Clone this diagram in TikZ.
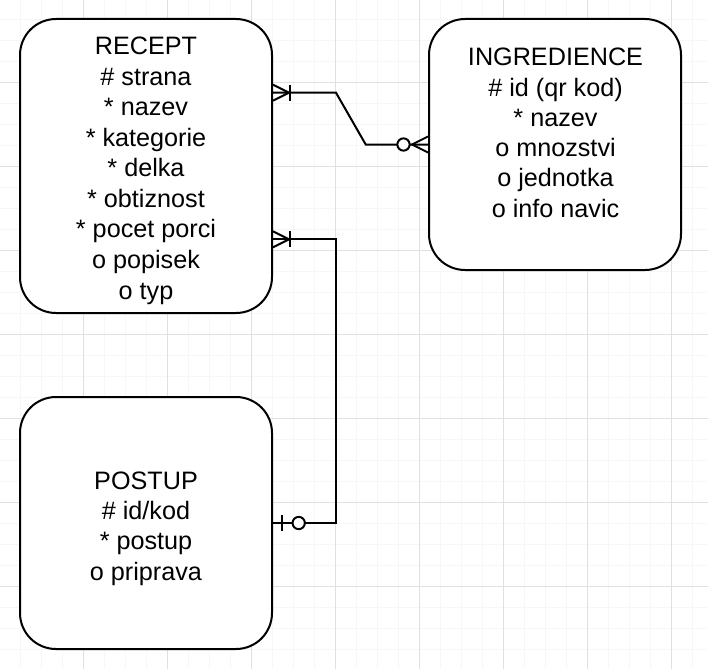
\documentclass[tikz,border=0pt]{standalone}
\usepackage{fontspec}
\setmainfont{Liberation Sans}
\begin{document}
\begin{tikzpicture}[x=1pt,y=-1pt,
  minorgrid/.style={draw=black!3, line width=1pt},
  majorgrid/.style={draw=black!12, line width=1pt},
  entity/.style={draw=black, line width=2pt, rounded corners=36pt, fill=white, inner sep=0pt},
  entlabel/.style={font=\fontsize{25.2}{30.3}\selectfont, align=center, anchor=north, inner sep=0pt, text=black},
  conn/.style={draw=black, line width=2pt, line join=miter},
  ring/.style={draw=black, line width=2pt, fill=white, circle, inner sep=0pt, minimum size=12.3pt}]
\useasboundingbox (0,0) rectangle (708,669);
\fill[white] (0,0) rectangle (708,669);
% grid
\foreach \k in {0,...,34} { \draw[minorgrid] ({-0.7+21*\k},0) -- ({-0.7+21*\k},669); }
\foreach \k in {0,...,32} { \draw[minorgrid] (0,{-1.7+21*\k}) -- (708,{-1.7+21*\k}); }
\foreach \k in {1,...,8} { \draw[majorgrid] ({-0.7+84*\k},0) -- ({-0.7+84*\k},669); }
\foreach \k in {1,...,7} { \draw[majorgrid] (0,{-1.7+84*\k}) -- (708,{-1.7+84*\k}); }
% entities
\node[entity, minimum width=252pt, minimum height=294pt] (recept) at (146,166) {};
\node[entity, minimum width=252pt, minimum height=251pt] (ingr) at (555,144.5) {};
\node[entity, minimum width=252pt, minimum height=252pt] (postup) at (146,523) {};
\node[entlabel, font=\fontsize{25.2}{30.5}\selectfont] (recepttext) at (146,37.2) {RECEPT\\\# strana\\* nazev\\* kategorie\\* delka\\* obtiznost\\* pocet porci\\o popisek\\o typ};
\node[entlabel] (ingrtext) at (555.5,48) {INGREDIENCE\\\# id (qr kod)\\* nazev\\o mnozstvi\\o jednotka\\o info navic};
\node[entlabel] (postuptext) at (146,471.3) {POSTUP\\\# id/kod\\* postup\\o priprava};
% connector RECEPT -- INGREDIENCE
\draw[conn] ([yshift=73.3pt]recept.east) -- ++(63,0) -- ([xshift=-62.3pt]ingr.west) -- (ingr.west);
\draw[conn] ([yshift=73.3pt]recept.east) ++(0,-8) -- ++(16,8) -- ++(-16,8);
\draw[conn] ([yshift=73.3pt]recept.east) ++(17,-8) -- ++(0,16);
\draw[conn] (ingr.west) ++(0,-8) -- ++(-16,8) -- ++(16,8);
\node[ring] (ring1) at ([xshift=-24.5pt]ingr.west) {};
% connector RECEPT -- POSTUP
\draw[conn] ([yshift=-73.3pt]recept.east) -- ++(63,0) |- (postup.east);
\draw[conn] ([yshift=-73.3pt]recept.east) ++(0,-8) -- ++(16,8) -- ++(-16,8);
\draw[conn] ([yshift=-73.3pt]recept.east) ++(17,-8) -- ++(0,16);
\draw[conn] (postup.east) ++(8.7,-8) -- ++(0,16);
\node[ring] (ring2) at ([xshift=25.7pt]postup.east) {};
\end{tikzpicture}
\end{document}
